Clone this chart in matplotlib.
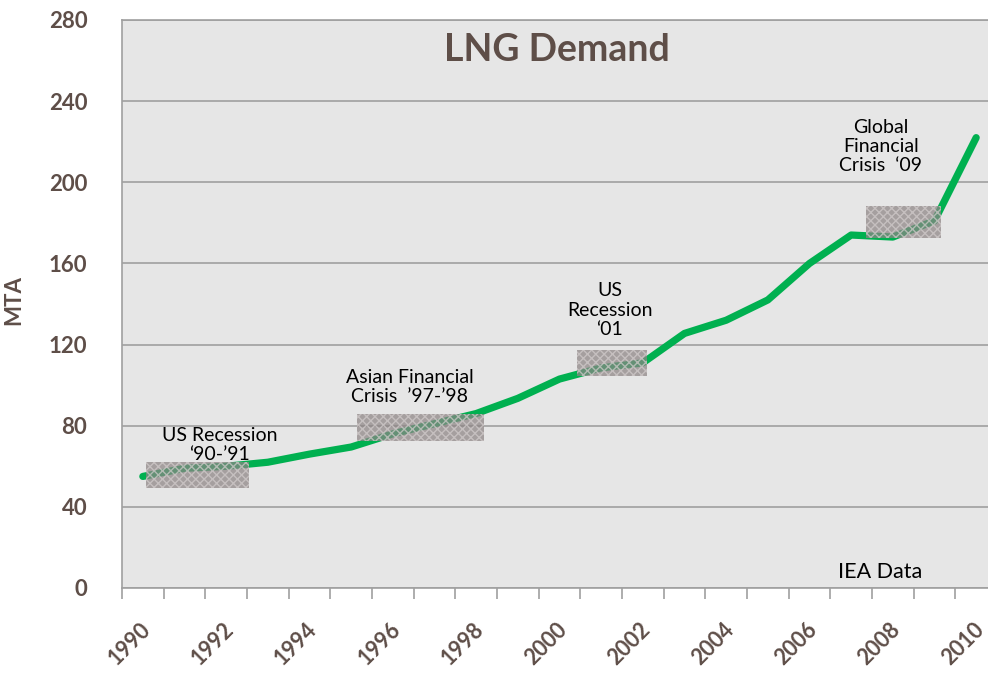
import matplotlib.pyplot as plt
from matplotlib.patches import Rectangle

years = [1990, 1991, 1992, 1993, 1994, 1995, 1996, 1997, 1998, 1999, 2000,
         2001, 2002, 2003, 2004, 2005, 2006, 2007, 2008, 2009, 2010]
demand = [55, 59, 60, 62, 66, 69.5, 76, 81, 86, 93.5, 103,
          108.5, 111, 125.5, 132, 142, 160, 174, 173, 181, 222]

# shaded periods: (x start, x end, y low, y high) in category units
periods = [
    (0.08, 2.55, 49.5, 62),
    (5.14, 8.19, 72.5, 86),
    (10.41, 12.09, 104.5, 117.5),
    (17.35, 19.15, 172.5, 188.5),
]
notes = [
    ("US Recession\n\u201890-\u201991", 1.85, 70.7),
    ("Asian Financial\nCrisis  \u201997-\u201998", 6.41, 99.3),
    ("US\nRecession\n\u201801", 11.21, 137),
    ("Global\nFinancial\nCrisis  \u201809", 17.71, 217.8),
]

brown = "#5e4e48"
plt.rcParams["font.family"] = ["Lato", "DejaVu Sans"]

fig = plt.figure(figsize=(9.88, 6.73), dpi=100)
ax = fig.add_axes([122 / 988, 85 / 673, 875 / 988, 568 / 673])
ax.set_facecolor("#e6e6e6")

x = list(range(len(years)))
ax.plot(x, demand, color="#00b050", lw=5.2, solid_capstyle="round",
        solid_joinstyle="round", zorder=3)

for x0, x1, y0, y1 in periods:
    ax.add_patch(Rectangle((x0, y0), x1 - x0, y1 - y0, facecolor="#8c8484",
                           edgecolor="#d2cccc", hatch="xxxx", lw=0,
                           alpha=0.72, zorder=4))

for text, tx, ty in notes:
    ax.text(tx, ty, text, ha="center", va="center", fontsize=14,
            color="black", linespacing=1.15, zorder=5)

ax.text(0.497, 0.947, "LNG Demand", transform=ax.transAxes, ha="center",
        va="center", fontsize=27, fontweight="bold", color=brown)
ax.text(16.68, 3, "IEA Data", ha="left", va="bottom", fontsize=15.5,
        color="black")

ax.set_xlim(-0.5, 20.5)
ax.set_ylim(0, 280)
ax.set_yticks(range(0, 281, 40))
ax.grid(axis="y", color="#a0a0a0", lw=1.2)
ax.set_axisbelow(True)

ax.set_xticks([i + 0.5 for i in range(-1, 21)])
ax.set_xticklabels([])
ax.tick_params(axis="x", length=8, color="#a0a0a0", width=1.2)
ax.tick_params(axis="y", length=0, pad=25, labelsize=16, labelcolor=brown)
for lab in ax.get_yticklabels():
    lab.set_fontweight("bold")

for i in range(0, 21, 2):
    ax.text(i - 0.08, -15, str(years[i]), rotation=45, ha="right", va="top",
            fontsize=15.5, fontweight="bold", color=brown,
            rotation_mode="anchor")

ax.set_ylabel("MTA", fontsize=16, fontweight="bold", color=brown)
ax.yaxis.set_label_coords(-0.112, 0.507)

for s in ["left", "top", "bottom"]:
    ax.spines[s].set_color("#a0a0a0")
    ax.spines[s].set_linewidth(1.2)
ax.spines["right"].set_visible(False)

fig.savefig("out.png", dpi=100)
